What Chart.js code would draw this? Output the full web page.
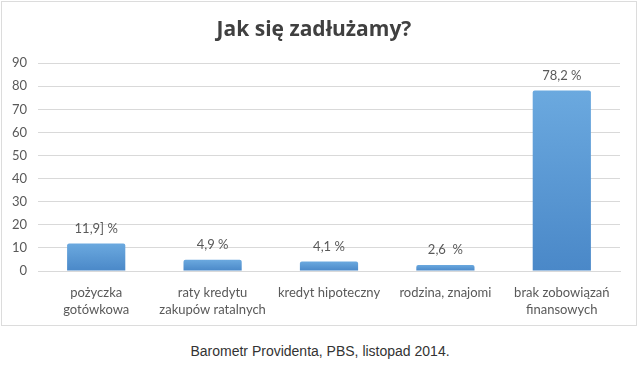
<!DOCTYPE html>
<html>
<head>
<meta charset="utf-8">
<script src="https://cdn.jsdelivr.net/npm/chart.js@4.4.1/dist/chart.umd.min.js"></script>
<style>
  html, body { margin: 0; padding: 0; background: #fff; }
  #page { position: relative; width: 640px; height: 365px; overflow: hidden; }
  #box { position: absolute; left: 1px; top: 1px; width: 634px; height: 323px; border: 1px solid #dcdcdc; }
  #caption { position: absolute; left: 0; width: 640px; top: 343px; text-align: center;
    font-family: "Liberation Sans", Arial, sans-serif; font-size: 14px; color: #333; }
</style>
</head>
<body>
<div id="page">
  <div id="box"><canvas id="chart1" width="634" height="323"></canvas></div>
  <div id="caption">Barometr Providenta, PBS, listopad 2014.</div>
</div>
<script>
// Dane wykresu
var kategorie = [
    ["pożyczka", "gotówkowa"],
    ["raty kredytu", "zakupów ratalnych"],
    "kredyt hipoteczny",
    "rodzina, znajomi",
    ["brak zobowiązań", "finansowych"]
];
var wartosci = [11.9, 4.9, 4.1, 2.6, 78.2];
var etykiety = ["11,9] %", "4,9 %", "4,1 %", "2,6  %", "78,2 %"];
var osY = { min: 0, max: 90, krok: 10 };

// Gradient dla każdego słupka osobno
function kolorSlupka(ctx) {
    var chart = ctx.chart;
    var y = chart.scales.y;
    if (!y || ctx.type !== 'data') return '#5b9bd5';
    var top = y.getPixelForValue(ctx.raw);
    var bottom = y.getPixelForValue(0);
    if (!isFinite(top) || !isFinite(bottom) || bottom - top < 1) return '#5b9bd5';
    var g = chart.ctx.createLinearGradient(0, top, 0, bottom);
    g.addColorStop(0, '#6ba9df');
    g.addColorStop(1, '#4a88c8');
    return g;
}

// Etykiety nad słupkami
var etykietyPlugin = {
    id: 'etykiety',
    afterDatasetsDraw: function (chart) {
        var c = chart.ctx;
        var meta = chart.getDatasetMeta(0);
        c.save();
        c.font = '13px Lato, sans-serif';
        c.fillStyle = '#595959';
        c.textAlign = 'center';
        c.textBaseline = 'middle';
        meta.data.forEach(function (bar, i) {
            c.fillText(etykiety[i], bar.x, bar.y - 15);
        });
        c.restore();
    }
};

var config = {
    type: 'bar',
    data: {
        labels: kategorie,
        datasets: [{
            data: wartosci,
            backgroundColor: kolorSlupka,
            borderWidth: 0,
            borderRadius: { topLeft: 2, topRight: 2 },
            borderSkipped: 'bottom',
            categoryPercentage: 1,
            barPercentage: 0.5
        }]
    },
    options: {
        responsive: false,
        animation: false,
        layout: { padding: { left: 6, right: 16, top: 0, bottom: 0 } },
        plugins: {
            legend: { display: false },
            tooltip: { enabled: false },
            title: {
                display: true,
                text: 'Jak się zadłużamy?',
                color: '#404040',
                font: { family: 'Open Sans', size: 21, weight: 'bold' },
                padding: { top: 15, bottom: 21 }
            }
        },
        scales: {
            x: {
                grid: { display: false, drawTicks: false },
                border: { color: '#d9d9d9' },
                ticks: {
                    color: '#595959',
                    font: { family: 'Lato', size: 13, lineHeight: 1.3 },
                    maxRotation: 0,
                    autoSkip: false,
                    padding: 13
                },
                afterFit: function (s) { s.height = 54; }
            },
            y: {
                min: osY.min,
                max: osY.max,
                grid: { color: '#d9d9d9', drawTicks: false },
                border: { display: false },
                ticks: {
                    stepSize: osY.krok,
                    color: '#595959',
                    font: { family: 'Lato', size: 13 },
                    padding: 11
                },
                afterFit: function (s) { s.width = 30; }
            }
        }
    },
    plugins: [etykietyPlugin]
};

var ctxChart1 = document.getElementById('chart1').getContext('2d');
new Chart(ctxChart1, config);
</script>
</body>
</html>
